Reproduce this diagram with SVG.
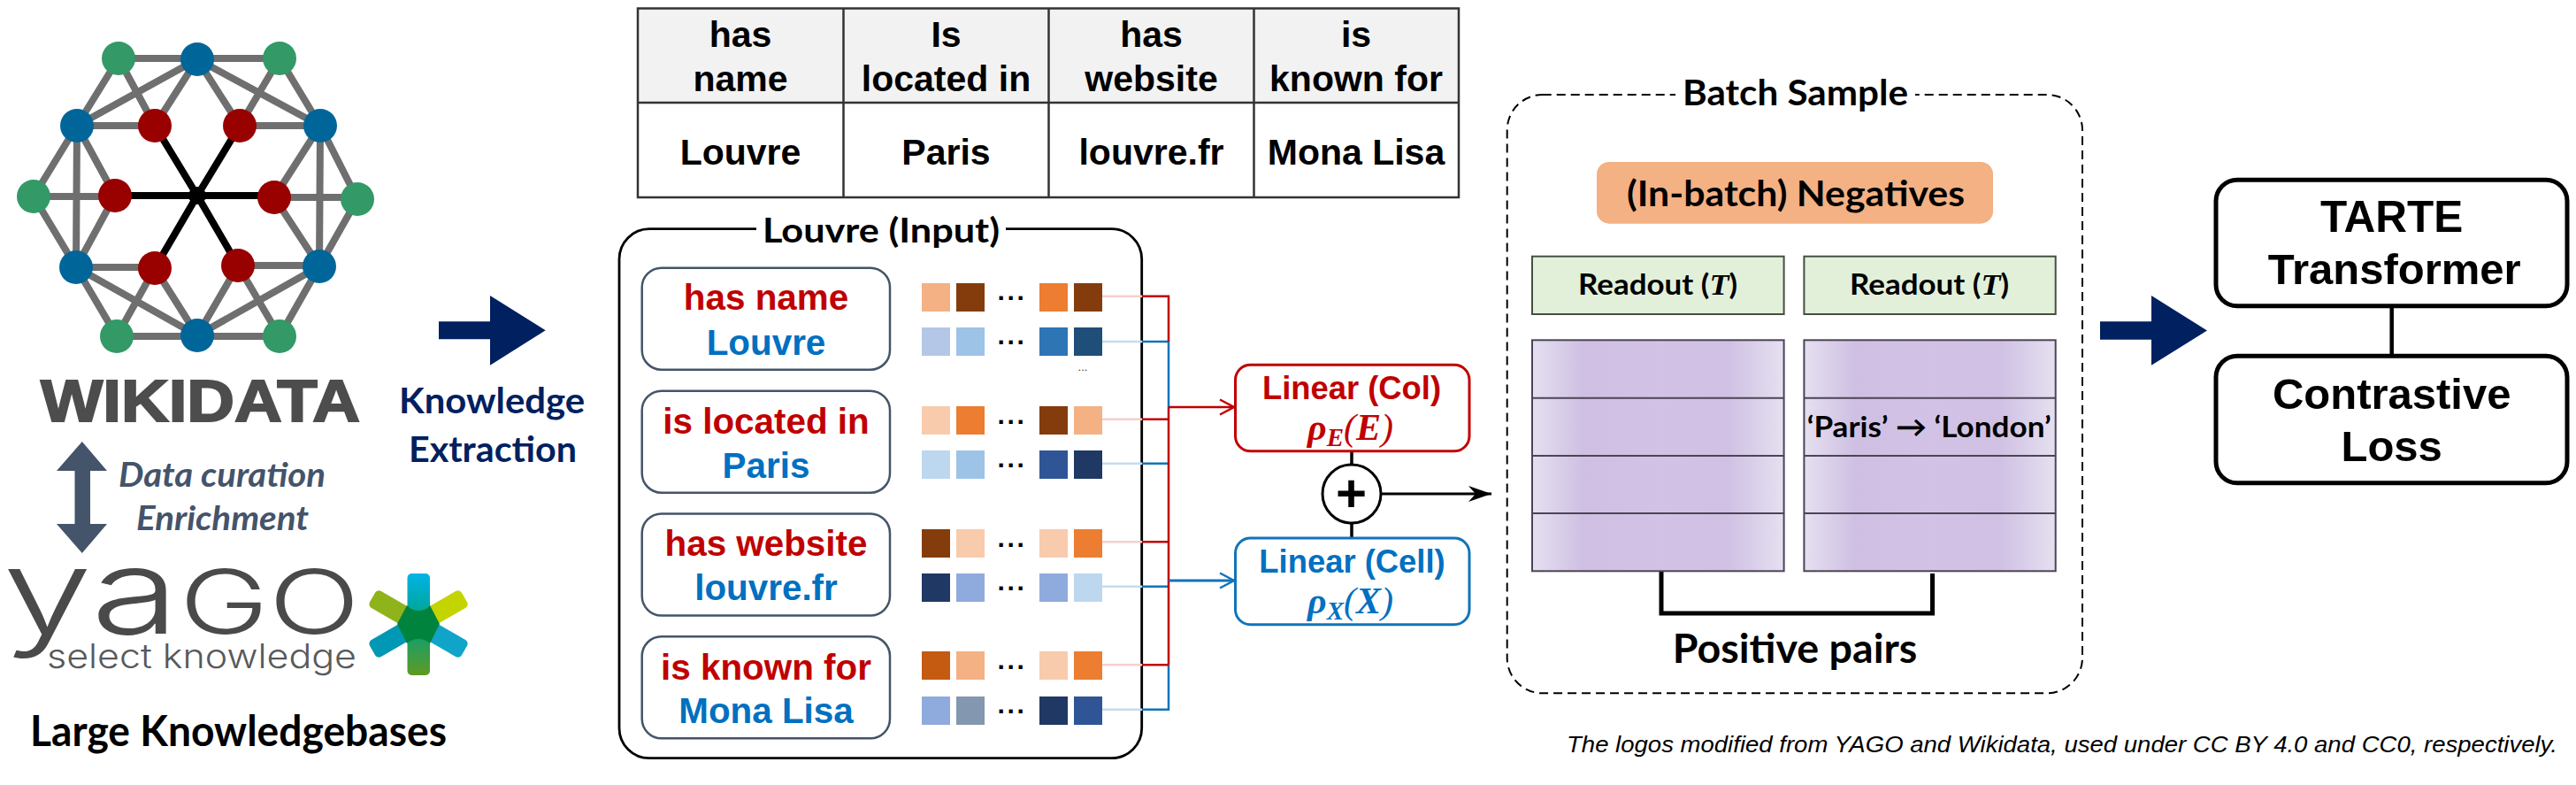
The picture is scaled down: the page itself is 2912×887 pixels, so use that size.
<svg xmlns="http://www.w3.org/2000/svg" width="2912" height="887" viewBox="0 0 2912 887">
<style>
text{font-family:"Liberation Sans",Arial,sans-serif;text-anchor:middle}
.ar{font-family:"Liberation Sans",Arial,sans-serif;font-weight:700}
.la{font-family:Lato,"Liberation Sans",sans-serif;font-weight:700}
.red{fill:#c00000}.blue{fill:#0070c0}
.math{font-family:"Liberation Serif",serif;font-style:italic;font-weight:700}
.cell{fill:none;stroke:#333;stroke-width:2.5}
.kv{fill:#fff;stroke:#44546a;stroke-width:2.5}
.gn{fill:#339966}.bl{fill:#006699}.rd{fill:#990000}
.rb{fill:#e2f0d9;stroke:#444f44;stroke-width:2}
.pu{fill:url(#pg);stroke:#4c4458;stroke-width:2}
.dots{font-weight:700;font-size:30px;letter-spacing:2.7px}
.big{fill:#002060}
.tb{fill:#fff;stroke:#000;stroke-width:5}
</style>
<defs>
<linearGradient id="pg" x1="0" x2="1" y1="0" y2="0">
<stop offset="0" stop-color="#e5e0f0"/><stop offset=".2" stop-color="#cfc0e3"/><stop offset=".5" stop-color="#d2c3e6"/><stop offset=".78" stop-color="#d0c1e4"/><stop offset="1" stop-color="#e5e0f0"/>
</linearGradient>
<linearGradient id="sv" x1="0" x2="0" y1="0" y2="1"><stop offset="0" stop-color="#00b4e6"/><stop offset=".5" stop-color="#00a080"/><stop offset="1" stop-color="#5f9a22"/></linearGradient>
<marker id="mr" markerUnits="userSpaceOnUse" markerWidth="20" markerHeight="20" refX="17" refY="10" orient="auto"><path d="M1 1.5L17 10L1 18.5" fill="none" stroke="#c00000" stroke-width="2.5"/></marker>
<marker id="mb" markerUnits="userSpaceOnUse" markerWidth="20" markerHeight="20" refX="17" refY="10" orient="auto"><path d="M1 1.5L17 10L1 18.5" fill="none" stroke="#1174b8" stroke-width="2.5"/></marker>
<marker id="mk" markerUnits="userSpaceOnUse" markerWidth="28" markerHeight="20" refX="26" refY="10" orient="auto"><path d="M0 1L26 10L0 19L8 10Z" fill="#000"/></marker>
</defs>
<rect width="2912" height="887" fill="#fff"/>

<g id="wikidata-logo">
<path fill="none" stroke="#6f6f6f" stroke-width="8" d="M134 66H316M134 66L87 142M134 66L175 142M223 67L87 142M223 67L175 142M223 67L271 142M223 67L362 142M316 66L271 142M316 66L362 142M87 142H175M271 142H362M87 142L38 222M87 142L86 302M87 142L130 221M38 222H130M38 222L86 302M130 221L86 302M362 142L404 225M362 142L361 301M362 142L310 223M310 223H404M404 225L361 301M310 223L361 301M86 302H175M269 300H361M86 302L132 380M86 302L223 379M175 303L132 380M175 303L223 379M269 300L223 379M269 300L316 380M361 301L223 379M361 301L316 380M132 380H316"/>
<path fill="none" stroke="#000" stroke-width="8" d="M175 142L223 221L271 142M130 221H310M175 303L223 221L269 300"/>
<circle cx="223" cy="221" r="10" fill="#000"/>
<g class="gn"><circle cx="134" cy="66" r="19"/><circle cx="316" cy="66" r="19"/><circle cx="38" cy="222" r="19"/><circle cx="404" cy="225" r="19"/><circle cx="132" cy="380" r="19"/><circle cx="316" cy="380" r="19"/></g>
<g class="bl"><circle cx="223" cy="67" r="19"/><circle cx="87" cy="142" r="19"/><circle cx="362" cy="142" r="19"/><circle cx="86" cy="302" r="19"/><circle cx="361" cy="301" r="19"/><circle cx="223" cy="379" r="19"/></g>
<g class="rd"><circle cx="175" cy="142" r="19"/><circle cx="271" cy="142" r="19"/><circle cx="130" cy="221" r="19"/><circle cx="310" cy="223" r="19"/><circle cx="175" cy="303" r="19"/><circle cx="269" cy="300" r="19"/></g>
<text x="226.5" y="476" class="ar" font-size="67" fill="#4d4d4d" stroke="#4d4d4d" stroke-width="2" textLength="361" lengthAdjust="spacingAndGlyphs">WIKIDATA</text>
</g>

<g id="curation">
<path fill="#44546a" d="M92.8 499L121 532H102V592H121L92.8 625L64 592H84.5V532H64Z"/>
<text x="251" y="550" class="la" font-style="italic" font-size="38" fill="#44546a" textLength="234" lengthAdjust="spacingAndGlyphs">Data curation</text>
<text x="251.5" y="599" class="la" font-style="italic" font-size="38" fill="#44546a" textLength="195" lengthAdjust="spacingAndGlyphs">Enrichment</text>
</g>

<g id="yago-logo">
<text x="205" y="716" style="font-family:Inter,'Liberation Sans',sans-serif" font-size="134" font-weight="300" fill="#4a4a4a" textLength="404" lengthAdjust="spacingAndGlyphs">ya<tspan font-size="100">GO</tspan></text>
<text x="228" y="755" style="font-family:Inter,'Liberation Sans',sans-serif" font-size="38" font-weight="300" fill="#58595b" textLength="350" lengthAdjust="spacingAndGlyphs">select knowledge</text>
<rect x="460.5" y="648" width="25.5" height="115" rx="5" fill="url(#sv)"/>
<g transform="rotate(-30 473 705)"><rect x="413" y="694" width="60" height="22" rx="5" fill="#0098b4"/></g>
<g transform="rotate(30 473 705)"><rect x="413" y="694" width="60" height="22" rx="5" fill="#8fb31a"/></g>
<g transform="rotate(30 473 705)"><rect x="473" y="694" width="60" height="22" rx="5" fill="#10a4c8"/></g>
<g transform="rotate(-30 473 705)"><rect x="473" y="694" width="60" height="22" rx="5" fill="#c4d400"/></g>
<path fill="#00843d" d="M473 690Q480 690 486 684L497 705L486 727Q480 722 473 722Q466 722 460 727L449 705L460 684Q466 690 473 690Z"/>
</g>
<text id="kb-label" x="269.5" y="843" class="la" font-size="47" fill="#000" textLength="471" lengthAdjust="spacingAndGlyphs">Large Knowledgebases</text>

<g id="extraction">
<path class="big" d="M496 363.3H554V334L616.7 373.3L554 412.7V383.3H496Z"/>
<text x="556" y="467" class="la big" font-size="41" textLength="210" lengthAdjust="spacingAndGlyphs">Knowledge</text>
<text x="557" y="522" class="la big" font-size="41" textLength="190" lengthAdjust="spacingAndGlyphs">Extraction</text>
</g>

<g id="table">
<rect x="721" y="9.5" width="928" height="106.5" fill="#f2f2f2"/>
<path class="cell" d="M721 9.5H1649V223H721ZM721 116H1649M953.5 9.5V223M1185.5 9.5V223M1417.5 9.5V223"/>
<g class="ar" font-size="41" fill="#000">
<text x="837" y="52.5">has</text><text x="837" y="102.5">name</text><text x="837" y="185.5">Louvre</text>
<text x="1069.5" y="52.5">Is</text><text x="1069.5" y="102.5">located in</text><text x="1069.5" y="185.5">Paris</text>
<text x="1301.5" y="52.5">has</text><text x="1301.5" y="102.5">website</text><text x="1301.5" y="185.5">louvre.fr</text>
<text x="1533" y="52.5">is</text><text x="1533" y="102.5">known for</text><text x="1533" y="185.5">Mona Lisa</text>
</g>
</g>

<g id="input-box">
<rect x="700" y="258.7" width="590.7" height="598" rx="34" fill="#fff" stroke="#000" stroke-width="2.8"/>
<rect x="855" y="240" width="282" height="40" fill="#fff"/>
<text x="996" y="274" class="la" font-size="39" fill="#000" textLength="268" lengthAdjust="spacingAndGlyphs">Louvre (Input)</text>
</g>

<g id="kv1"><rect class="kv" x="725.7" y="302.7" width="280.3" height="115" rx="22"/><text x="866" y="349.8" class="ar red" font-size="40.4">has name</text><text x="866" y="401.2" class="ar blue" font-size="40.4">Louvre</text></g>
<g id="kv2"><rect class="kv" x="725.7" y="441.7" width="280.3" height="115" rx="22"/><text x="866" y="489.5" class="ar red" font-size="40.4">is located in</text><text x="866" y="539.5" class="ar blue" font-size="40.4">Paris</text></g>
<g id="kv3"><rect class="kv" x="725.7" y="580.5" width="280.3" height="115" rx="22"/><text x="866" y="628.2" class="ar red" font-size="40.4">has website</text><text x="866" y="677.5" class="ar blue" font-size="40.4">louvre.fr</text></g>
<g id="kv4"><rect class="kv" x="725.7" y="719.3" width="280.3" height="115" rx="22"/><text x="866" y="767.5" class="ar red" font-size="40.4">is known for</text><text x="866" y="817.2" class="ar blue" font-size="40.4">Mona Lisa</text></g>

<g id="embeddings">
<rect x="1042" y="320" width="32" height="32" fill="#f4b183"/><rect x="1081" y="320" width="32" height="32" fill="#843c0c"/><rect x="1175" y="320" width="32" height="32" fill="#ed7d31"/><rect x="1214" y="320" width="32" height="32" fill="#843c0c"/>
<rect x="1042" y="370" width="32" height="32" fill="#b4c7e7"/><rect x="1081" y="370" width="32" height="32" fill="#9dc3e6"/><rect x="1175" y="370" width="32" height="32" fill="#2e75b6"/><rect x="1214" y="370" width="32" height="32" fill="#1f4e79"/>
<rect x="1042" y="459" width="32" height="32" fill="#f8cbad"/><rect x="1081" y="459" width="32" height="32" fill="#ed7d31"/><rect x="1175" y="459" width="32" height="32" fill="#843c0c"/><rect x="1214" y="459" width="32" height="32" fill="#f4b183"/>
<rect x="1042" y="509" width="32" height="32" fill="#bdd7ee"/><rect x="1081" y="509" width="32" height="32" fill="#9dc3e6"/><rect x="1175" y="509" width="32" height="32" fill="#2f5597"/><rect x="1214" y="509" width="32" height="32" fill="#203864"/>
<rect x="1042" y="598" width="32" height="32" fill="#843c0c"/><rect x="1081" y="598" width="32" height="32" fill="#f8cbad"/><rect x="1175" y="598" width="32" height="32" fill="#f8cbad"/><rect x="1214" y="598" width="32" height="32" fill="#ed7d31"/>
<rect x="1042" y="648" width="32" height="32" fill="#203864"/><rect x="1081" y="648" width="32" height="32" fill="#8faadc"/><rect x="1175" y="648" width="32" height="32" fill="#8faadc"/><rect x="1214" y="648" width="32" height="32" fill="#bdd7ee"/>
<rect x="1042" y="736" width="32" height="32" fill="#c55a11"/><rect x="1081" y="736" width="32" height="32" fill="#f4b183"/><rect x="1175" y="736" width="32" height="32" fill="#f8cbad"/><rect x="1214" y="736" width="32" height="32" fill="#ed7d31"/>
<rect x="1042" y="787" width="32" height="32" fill="#8faadc"/><rect x="1081" y="787" width="32" height="32" fill="#8497b0"/><rect x="1175" y="787" width="32" height="32" fill="#203864"/><rect x="1214" y="787" width="32" height="32" fill="#2f5597"/>
<g class="dots" fill="#000"><text x="1144" y="339">...</text><text x="1144" y="389">...</text><text x="1144" y="479">...</text><text x="1144" y="528">...</text><text x="1144" y="618">...</text><text x="1144" y="667">...</text><text x="1144" y="756">...</text><text x="1144" y="806">...</text></g>
<text x="1224" y="419" font-size="13" fill="#333">...</text>
</g>

<g id="connectors" fill="none">
<path stroke="#f6cfd2" stroke-width="2.5" d="M1246 334.7H1291M1246 473.7H1291M1246 612.3H1291M1246 751.3H1291"/>
<path stroke="#c5dcef" stroke-width="2.5" d="M1246 386H1291M1246 523.7H1291M1246 662.7H1291M1246 801.7H1291"/>
<path stroke="#1174b8" stroke-width="2.5" d="M1291 386H1321V460M1291 523.7H1321M1291 662.7H1321M1291 801.7H1321V751.3"/>
<path stroke="#c00000" stroke-width="2.5" d="M1291 334.7H1321V386M1321 460V751.3M1291 473.7H1321M1291 612.3H1321M1291 751.3H1321"/>
<path stroke="#c00000" stroke-width="2.5" d="M1321 460H1395" marker-end="url(#mr)"/>
<path stroke="#1174b8" stroke-width="3" d="M1321 656H1395" marker-end="url(#mb)"/>
<path stroke="#000" stroke-width="3.5" d="M1528 510V525M1528 591V608"/>
<path stroke="#000" stroke-width="3" d="M1561 558H1686" marker-end="url(#mk)"/>
<path stroke="#000" stroke-width="4.5" d="M2703.7 345V402"/>
<path stroke="#000" stroke-width="5" d="M1878 643V693H2184.5V648"/>
</g>

<g id="linear-col"><rect x="1396.5" y="412.3" width="264.5" height="97.4" rx="17" fill="#fff" stroke="#c00000" stroke-width="3"/>
<text x="1528" y="451.2" class="ar red" font-size="36.4">Linear (Col)</text>
<text x="1526.5" y="496.7" class="math red" font-size="42">ρ<tspan font-size="29" dy="7">E</tspan><tspan dy="-7" font-weight="400">(</tspan>E<tspan font-weight="400">)</tspan></text></g>
<g id="linear-cell"><rect x="1396.5" y="608" width="264.5" height="97.7" rx="17" fill="#fff" stroke="#1174b8" stroke-width="3"/>
<text x="1528.5" y="647.2" class="ar blue" font-size="36.4">Linear (Cell)</text>
<text x="1526.5" y="693" class="math blue" font-size="42">ρ<tspan font-size="29" dy="7">X</tspan><tspan dy="-7" font-weight="400">(</tspan>X<tspan font-weight="400">)</tspan></text></g>
<g id="plus"><circle cx="1528" cy="558" r="33" fill="#fff" stroke="#000" stroke-width="3"/>
<text x="1527.5" y="578" class="ar" font-size="60" fill="#000">+</text></g>

<g id="batch">
<rect x="1703.7" y="107" width="650.3" height="676.3" rx="40" fill="none" stroke="#000" stroke-width="2" stroke-dasharray="10 6"/>
<rect x="1894" y="85" width="271" height="45" fill="#fff"/>
<text x="2029.5" y="119.3" class="la" font-size="41" fill="#000" textLength="255" lengthAdjust="spacingAndGlyphs">Batch Sample</text>
</g>
<g id="negatives"><rect x="1805" y="183" width="448" height="69.7" rx="14" fill="#f4b183"/>
<text x="2030" y="232.7" class="la" font-size="41" fill="#000" textLength="382" lengthAdjust="spacingAndGlyphs">(In-batch) Negatives</text></g>
<g id="readout-1"><rect class="rb" x="1732" y="289.7" width="284.6" height="65.3"/>
<text x="1874" y="333" class="la" font-size="33" fill="#000" textLength="180" lengthAdjust="spacingAndGlyphs">Readout (<tspan class="math" font-size="34">T</tspan>)</text></g>
<g id="readout-2"><rect class="rb" x="2039.4" y="289.7" width="284.3" height="65.3"/>
<text x="2181" y="333" class="la" font-size="33" fill="#000" textLength="180" lengthAdjust="spacingAndGlyphs">Readout (<tspan class="math" font-size="34">T</tspan>)</text></g>
<g id="table-a"><rect class="pu" x="1732" y="384.3" width="284.6" height="261"/><path stroke="#4c4458" stroke-width="2" d="M1732 449.7H2016.6M1732 515H2016.6M1732 580H2016.6"/></g>
<g id="table-b"><rect class="pu" x="2039.4" y="384.3" width="284.3" height="261"/><path stroke="#4c4458" stroke-width="2" d="M2039.4 449.7H2323.7M2039.4 515H2323.7M2039.4 580H2323.7"/>
<text x="2180.7" y="494" class="la" font-size="33" fill="#000" textLength="276" lengthAdjust="spacingAndGlyphs">‘Paris’ → ‘London’</text></g>
<text id="positive" x="2029" y="749" class="la" font-size="46" fill="#000" textLength="276.5" lengthAdjust="spacingAndGlyphs">Positive pairs</text>

<path id="arrow-2" class="big" d="M2374 363.3H2432V334L2495 373.5L2432 412.7V383.7H2374Z"/>
<g id="tarte"><rect class="tb" x="2505" y="203.3" width="397" height="142.4" rx="24"/>
<text x="2703.7" y="262" class="ar" font-size="49.5" fill="#000">TARTE</text><text x="2706.7" y="320.5" class="ar" font-size="49" fill="#000">Transformer</text></g>
<g id="loss"><rect class="tb" x="2505" y="402.3" width="397" height="143.4" rx="24"/>
<text x="2703.7" y="461.5" class="ar" font-size="49" fill="#000">Contrastive</text><text x="2703.7" y="521" class="ar" font-size="49" fill="#000">Loss</text></g>

<text id="credit" x="2331" y="850" font-size="26" font-style="italic" fill="#000" textLength="1120" lengthAdjust="spacingAndGlyphs">The logos modified from YAGO and Wikidata, used under CC BY 4.0 and CC0, respectively.</text>
</svg>
